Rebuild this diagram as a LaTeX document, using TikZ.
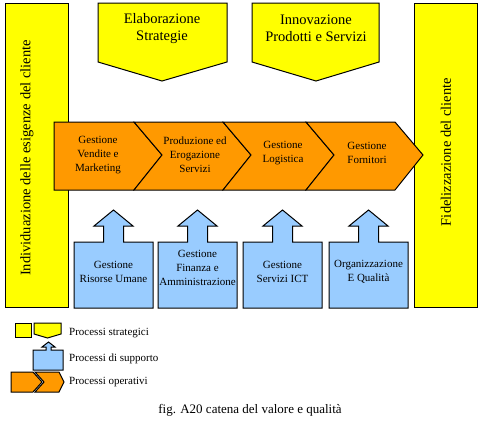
\documentclass[tikz,border=0pt]{standalone}
\usepackage{fontspec}
\setmainfont{Liberation Serif}
\usetikzlibrary{positioning}
\definecolor{strat}{HTML}{FFFF00}
\definecolor{oper}{HTML}{FF9900}
\definecolor{supp}{HTML}{99CCFF}
\tikzstyle{stratbox} = [draw=black, line width=1pt, fill=strat]
\tikzstyle{operbox} = [draw=black, line width=1pt, fill=oper]
\tikzstyle{suppbox} = [draw=black, line width=1pt, fill=supp]
\tikzstyle{big} = [align=center, font=\fontsize{14.5}{17}\selectfont, inner sep=0]
\tikzstyle{small} = [align=center, font=\fontsize{11}{14}\selectfont, inner sep=0]
\tikzstyle{legend} = [anchor=west, font=\fontsize{11}{13}\selectfont, inner sep=0]

\begin{document}
\begin{tikzpicture}[x=1pt,y=-1pt]
\useasboundingbox (0,0) rectangle (503,447);
% customer bars
\draw[stratbox] (5,3) rectangle (68,307);
\draw[stratbox] (414,3) rectangle (477,307);
\node[big, rotate=90] (needs) at (27,158) {Individuazione delle esigenze del cliente};
\node[big, rotate=90] (loyal) at (446,152) {Fidelizzazione del cliente};

% strategic processes
\foreach \l/\r/\c/\name/\txt in {98/227/162/elab/{Elaborazione\\Strategie}, 252/379/316/innov/{Innovazione\\Prodotti e Servizi}}{
	\draw[stratbox] (\l,3)--(\r,3)--(\r,62)--(\c,81)--(\l,62)--cycle;
	\node[big] (\name) at (\c,28.5) {\txt};
}

% operative chain
\draw[operbox] (54,122)--(134,122)--(162,155)--(134,190)--(54,190)--cycle;
\foreach \a/\b in {134/223, 223/306, 306/395}{
	\draw[operbox] (\a,122)--(\b,122)--(\b+28,155)--(\b,190)--(\a,190)--(\a+28,155)--cycle;
}
\node[small] (sales) at (98,155.5) {Gestione\\Vendite e\\Marketing};
\node[small] (prod) at (195,155) {Produzione ed\\Erogazione\\Servizi};
\node[small] (logi) at (283,153) {Gestione\\Logistica};
\node[small] (supl) at (367,153) {Gestione\\Fornitori};

% support processes
\foreach \l in {74, 158, 243, 329}{
	\pgfmathsetmacro{\c}{\l+39.5}
	\draw[suppbox] (\l,242)--(\c-10,242)--(\c-10,226)--(\c-19.5,226)--(\c,210)--(\c+19.5,226)--(\c+10,226)--(\c+10,242)--(\l+79,242)--(\l+79,308)--(\l,308)--cycle;
}
\node[small] (hr) at (113.5,271.5) {Gestione\\Risorse Umane};
\node[small] (fin) at (197.5,268) {Gestione\\Finanza e\\Amministrazione};
\node[small] (ict) at (282.5,271.5) {Gestione\\Servizi ICT};
\node[small] (qual) at (368.5,271.5) {Organizzazione\\E Qualità};

% legend
\draw[stratbox] (15,323) rectangle (31,337);
\draw[stratbox] (34,323)--(61,323)--(61,334)--(47.5,338)--(34,334)--cycle;
\draw[suppbox] (33,350)--(46,350)--(46,347)--(42,347)--(48.5,342)--(55,347)--(51,347)--(51,350)--(63,350)--(63,370)--(33,370)--cycle;
\draw[operbox] (11,372)--(33,372)--(42,382)--(33,392)--(11,392)--cycle;
\draw[operbox] (35,372)--(59,372)--(64,382)--(59,392)--(35,392)--(44,382)--cycle;
\node[legend] (lstrat) at (69,333) {Processi strategici};
\node[legend] (lsupp) at (69,359) {Processi di supporto};
\node[legend] (loper) at (69,382) {Processi operativi};

% caption
\node[font=\fontsize{13}{15}\selectfont, inner sep=0] (caption) at (250,410) {fig. A20 catena del valore e qualità};
\end{tikzpicture}
\end{document}
